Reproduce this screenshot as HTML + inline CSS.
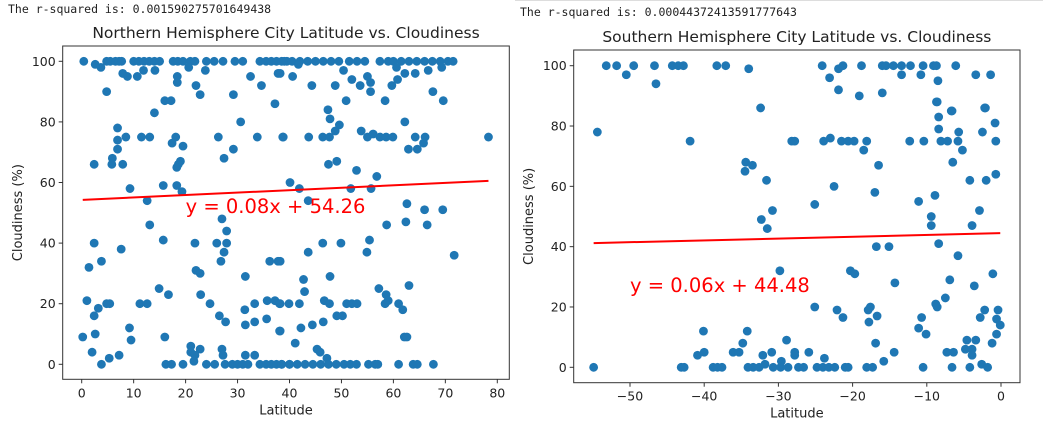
<!DOCTYPE html>
<html><head><meta charset="utf-8"><style>
body{margin:0;background:#fff;width:1043px;height:427px;overflow:hidden}
svg{display:block;font-family:"DejaVu Sans","Liberation Sans",sans-serif}
.rs{font-family:"DejaVu Sans Mono","Liberation Mono",monospace;font-size:11.5px;fill:#222}
.tick{font-size:12.5px;fill:#222}
.ttl{font-size:15.5px;fill:#222}
.lab{font-size:13px;fill:#222}
.eq{font-size:19.5px;fill:#ff0000}
</style></head><body>
<svg id="root" width="1043" height="427" viewBox="0 0 1043 427">
<line x1="515" y1="0.5" x2="1043" y2="0.5" stroke="#ddd"/>
<text class="rs" x="8" y="13">The r-squared is: 0.001590275701649438</text>
<text class="rs" x="520" y="16">The r-squared is: 0.00044372413591777643</text>
<g id="north"></g>
<g id="south"></g>
</svg>
<script>
// Northern hemisphere data
const northLat = [0.4,2.6,3.7,4.8,5.5,6.5,7.2,7.7,7.9,8.8,10,11,12,13,14,15,10.7,11.9,14.1,4.8,17.6,18.5,19.5,20.9,21.8,18.4,18.4,20.6,22,22.8,24,25.5,27.2,23.8,29.5,31,29.2,32.5,34.6,37.2,37.8,34.3,35.5,36.5,37.5,38.5,39.5,16,17.2,14,30.6,6.9,6.9,8.5,11.5,13.1,6.9,5.9,5.8,7.9,2.4,18.1,17.4,19.5,19,18.6,18.3,26.3,29.2,27.4,33.8,38.7,9.3,15.7,18.3,19.3,12.6,13.1,27,27.9,2.4,7.6,15.7,21.8,26,27.9,27.4,26.8,36.2,37.8,1.4,3.8,22,22.8,31.5,14.9,16.7,22.9,1,3.2,2.4,4.8,5.4,11.2,12.6,24.7,26.5,27.7,31.4,33.3,31.5,33.3,35.6,35.7,37.2,38.1,38.1,0.2,2.6,9.2,9.5,16,2,5.3,3.8,7.2,21,21,22.8,21.8,21.6,27,27.2,31.5,33.3,16.2,17.3,19.5,24,25.6,27.6,29,30,31,32,34.3,35.5,36.5,37.5,38.5,40,
39,40.5,42,43.5,45,46.5,48,49.5,51.5,53,54.5,57.4,59,60,61.5,63,64.5,66,67.5,69,70.5,71.5,41.7,38.2,40.6,44.3,48.8,50.4,52,53.6,55,55.6,55.6,50.9,58.4,59.7,60.8,60.6,62.2,64.2,66.7,69.3,67.6,69.6,47.4,47.8,49.6,48.8,62.2,38.8,43.7,46.4,47.7,53.8,55,56.1,57.4,58.6,59.9,64.2,66.1,65.8,62.9,64.6,78.3,47.5,49.1,52.9,56.8,40.1,41.9,51.8,55.7,43.6,62.6,66,69.5,58.7,62.4,66.5,46.4,49.9,55.4,54.9,43.6,71.7,38.2,42.7,47.8,42.9,57.2,63,58.6,59,38.2,39.9,41.9,46.7,47.7,51,52,53,58.4,61,61.8,49.1,50.2,38.2,42.2,44.4,46.5,62.1,62.6,41.1,45.3,45.9,47.2,38.5,40,41.5,43,44.5,46,47.5,49,50.5,51.7,52.9,55.2,56.5,57,61,63.8,64.6,67.7];
const northCloud = [100,99,98,100,100,100,100,100,96,95,100,100,100,100,100,100,95,97,97,90,100,100,100,100,100,95,93,98,92,89,100,100,100,97,100,100,89,95,92,86,96,100,100,100,100,100,100,87,87,83,80,78,74,75,75,75,71,68,66,66,66,75,73,72,67,66,65,75,71,68,75,75,58,59,59,57,54,46,48,44,40,38,41,40,40,40,37,34,34,34,32,34,31,30,29,25,23,23,21,18.5,16,20,20,20,20,20,16,14,18,20,13,14,15,21,21,20,11,9,10,12,8,9,4,2,0,3,6,4,5,3,1,5,3,3,3,0,0,0,0,0,0,0,0,0,0,0,0,0,0,0,0,
100,100,100,100,100,100,100,100,100,100,100,100,100,100,100,100,100,100,100,100,100,100,99,96,95,92,92,97,94,92,95,93,90,87,87,92,94,98,96,96,97,98,90,87,84,81,79,77,80,75,75,75,75,77,75,76,75,75,75,75,75,73,71,71,75,66,67,64,62,60,58,58,58,54,53,51,51,46,47,46,40,40,41,37,37,36,34,28,29,24,25,26,23,21,20,20,20,21,20,20,20,20,20,20,18,16,16,11,12,13,14,9,9,7,5,4,2,0,0,0,0,0,0,0,0,0,0,0,0,0,0,0,0,0,0];
const northTicksX = [0,10,20,30,40,50,60,70,80];
const northTicksY = [0,20,40,60,80,100];
const northFit = [0.08, 54.26];

// Southern hemisphere data
const southLat = [-53.2,-51.8,-49.5,-46.7,-44.3,-43.5,-42.8,-38.3,-37.1,-50.5,-46.5,-34,-32.4,-24.1,-23.1,-21.9,-21.3,-21.9,-19.1,-18.8,-16,-15.5,-16,-14.5,-13.4,-13.4,-12.2,-10.8,-10.5,-9.1,-8.7,-8.5,-8.7,-6.7,-6.1,-3.4,-2.1,-1.4,
-54.4,-41.9,-28.2,-34.4,-33.5,-34.5,-31.6,-30.8,-32.3,-31.5,-29.8,-40.1,-34.2,-34.8,-28.9,-40.9,-40,-36.1,-35.3,-32.1,-30.9,-27.8,-31.8,-29.6,-54.9,-43.1,-42.7,-38.8,-38.2,-37.6,-34.1,-33.4,-32.6,-30.7,-29.7,-28.7,
-8.6,-2.2,-6.6,-8.4,-0.8,-8.4,-5.7,-2.5,-27.8,-23.9,-23,-21.5,-20.6,-19.8,-18.1,-12.3,-10.4,-8.1,-7.2,-5.8,-0.7,-18.5,-5.2,-6.5,-16.5,-4.2,-2,-0.7,-22.5,-17,-25.1,-11.1,-8.9,-9.4,-9.4,-2.9,-3.9,-16.8,-15.1,-8.4,-5.8,-20.3,-19.7,-14.3,-6.9,-3.6,-1.1,-25.1,-22.1,-21.3,-17.6,-17.9,-16.7,-17.8,-7.5,-8.8,-8.6,-10.7,-11.1,-10.1,-2.2,-0.4,-2.8,-0.6,-0.1,-0.6,-1.2,-4.6,-3.4,-4.8,-3.9,-3.9,-16.9,-14.4,-15.8,-25.9,-27.8,-23.8,-7.3,-6.4,-2.6,-1.8,-27.3,-26.6,-24.8,-24,-23.2,-22.4,-21,-20.6,-18.1,-17.3,-10.5,-6.6,-4.2];
const southCloud = [100,100,100,100,100,100,100,100,100,97,94,99,86,100,96,99,100,92,90,100,100,100,91,100,100,97,100,97,100,100,100,95,88,85,100,97,86,97,
78,75,75,68,67,65,62,52,49,46,32,12,12,8,9,4,5,5,5,4,5,4,1,2,0,0,0,0,0,0,0,0,0,0,0,0,
88,86,85,83,81,79,78,78,75,75,76,75,75,75,75,75,75,75,75,75,75,72,72,68,67,62,62,64,60,58,54,55,57,50,47,52,47,40,40,41,37,32,31,28,29,27,31,20,19,16.5,20,19,17,15,23,21,20,16.5,13,11,19,19,16.5,16,14,11,8,9,9,6,6,4,8,5,2,5,5,3,5,5,1,0,0,0,0,0,0,0,0,0,0,0,0,0,0];
const southTicksX = [-50,-40,-30,-20,-10,0];
const southTicksY = [0,20,40,60,80,100];
const southFit = [0.06, 44.48];

const NS = 'http://www.w3.org/2000/svg';
function mk(tag, attrs, parent, text){
  const e = document.createElementNS(NS, tag);
  for (const k in attrs) e.setAttribute(k, attrs[k]);
  if (text !== undefined) e.textContent = text;
  parent.appendChild(e);
  return e;
}
function drawChart(g, cfg, lats, clouds, ticksX, ticksY, fit){
  const sx = v => cfg.x0px + (v - cfg.x0v) * cfg.kx;
  const sy = v => cfg.y0px - v * cfg.ky;
  const frame = mk('rect', {x:cfg.L, y:cfg.T, width:cfg.R-cfg.L, height:cfg.B-cfg.T, fill:'#fff', stroke:'#333', 'stroke-width':1}, g);
  
  
  ticksX.forEach(t => {
    const x = sx(t);
    const tl = mk('line', {x1:x, y1:cfg.B, x2:x, y2:cfg.B+4, stroke:'#333'}, g);
    
    
    const tx = mk('text', {x:x, y:cfg.B+18, 'text-anchor':'middle', class:'tick'}, g, String(t).replace('-', '\u2212'));
    
    
  });
  ticksY.forEach(t => {
    const y = sy(t);
    const tl = mk('line', {x1:cfg.L-4, y1:y, x2:cfg.L, y2:y, stroke:'#333'}, g);
    
    
    const tx = mk('text', {x:cfg.L-7, y:y+4.5, 'text-anchor':'end', class:'tick'}, g, String(t));
    
    
  });
  lats.forEach((la, i) => {
    const c = mk('circle', {cx:sx(la), cy:sy(clouds[i]), r:4.4, fill:'#1f77b4'}, g);
    
    
  });
  const mn = Math.min(...lats), mx = Math.max(...lats);
  const ln = mk('line', {x1:sx(mn), y1:sy(fit[0]*mn+fit[1]), x2:sx(mx), y2:sy(fit[0]*mx+fit[1]), stroke:'#ff0000', 'stroke-width':2}, g);
  
  
  const eq = mk('text', {x:sx(cfg.eqx), y:sy(cfg.eqy), class:'eq'}, g, cfg.eq);
  
  
  const cx = (cfg.L + cfg.R) / 2;
  const tt = mk('text', {x:cx, y:cfg.T-8, 'text-anchor':'middle', class:'ttl'}, g, cfg.title);
  
  
  const xl = mk('text', {x:cx, y:cfg.B+35, 'text-anchor':'middle', class:'lab'}, g, 'Latitude');
  
  
  const ym = (cfg.T + cfg.B) / 2;
  const yl = mk('text', {x:cfg.ylx, y:ym, 'text-anchor':'middle', class:'lab', transform:'rotate(-90 '+cfg.ylx+' '+ym+')'}, g, 'Cloudiness (%)');
  
  
}
drawChart(document.getElementById('north'),
  {L:62.7,R:509.3,T:46,B:379.3,x0v:0,x0px:81.7,kx:5.195,y0px:364.3,ky:3.03,eqx:20,eqy:50,eq:'y = 0.08x + 54.26',title:'Northern Hemisphere City Latitude vs. Cloudiness',ylx:22},
  northLat, northCloud, northTicksX, northTicksY, northFit);
drawChart(document.getElementById('south'),
  {L:573.7,R:1020,T:50,B:382.7,x0v:0,x0px:1001,kx:7.42,y0px:367.3,ky:3.016,eqx:-50,eqy:25,eq:'y = 0.06x + 44.48',title:'Southern Hemisphere City Latitude vs. Cloudiness',ylx:533},
  southLat, southCloud, southTicksX, southTicksY, southFit);
</script>
</body></html>
